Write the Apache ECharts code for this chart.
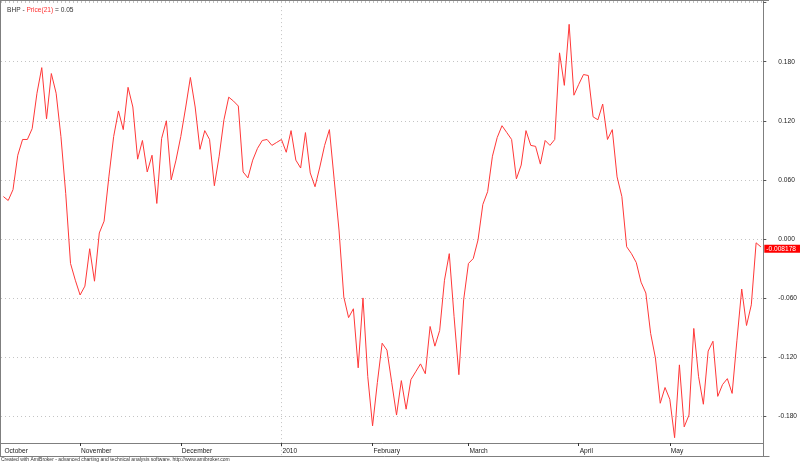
<!DOCTYPE html>
<html>
<head>
<meta charset="utf-8">
<script src="https://cdn.jsdelivr.net/npm/echarts@6/dist/echarts.min.js"></script>
<style>html,body{margin:0;padding:0;background:#fff;overflow:hidden;}#c{width:800px;height:480px;}</style>
</head>
<body>
<div id="c"></div>
<script>
const monthLabels = ['October','November','December','2010','February','March','April','May'];
const monthStartIdx = [0,16,37,58,77,97,120,139];
const yTicks = [-0.18,-0.12,-0.06,0,0.06,0.12,0.18];
const values = [
 0.043,0.039,0.050,0.085,0.101,0.101,0.112,0.148,0.174,0.122,
 0.168,0.148,0.104,0.046,-0.025,-0.042,-0.057,-0.048,-0.010,-0.043,
 0.006,0.018,0.063,0.104,0.130,0.111,0.154,0.134,0.081,0.100,
 0.068,0.085,0.036,0.102,0.120,0.060,0.080,0.104,0.133,0.164,
 0.134,0.091,0.110,0.101,0.054,0.084,0.121,0.144,0.140,0.135,
 0.068,0.062,0.080,0.092,0.100,0.101,0.095,0.098,0.101,0.088,
 0.110,0.080,0.072,0.108,0.067,0.053,0.073,0.095,0.111,0.060,
 0.009,-0.059,-0.080,-0.071,-0.131,-0.060,-0.140,-0.190,-0.146,-0.106,
 -0.113,-0.146,-0.179,-0.144,-0.173,-0.143,-0.135,-0.127,-0.137,-0.089,
 -0.109,-0.093,-0.042,-0.015,-0.079,-0.138,-0.062,-0.025,-0.020,-0.001,
 0.035,0.048,0.084,0.103,0.115,0.108,0.101,0.061,0.075,0.110,
 0.095,0.094,0.076,0.100,0.095,0.101,0.189,0.156,0.218,0.146,
 0.157,0.167,0.166,0.124,0.121,0.137,0.101,0.111,0.063,0.043,
 -0.008,-0.015,-0.024,-0.044,-0.055,-0.096,-0.121,-0.167,-0.151,-0.163,
 -0.202,-0.128,-0.191,-0.179,-0.091,-0.140,-0.168,-0.114,-0.104,-0.160,
 -0.148,-0.142,-0.157,-0.103,-0.051,-0.088,-0.067,-0.004,-0.008178
];
const lastValue = values[values.length - 1];
const categories = values.map((_, i) => String(i));

const FONT = 'Liberation Sans, Arial, sans-serif';
const chart = echarts.init(document.getElementById('c'), null, {renderer: 'canvas'});
const gridColor = '#c4c4c4';
const frameColor = '#7f7f7f';
chart.setOption({
  animation: false,
  backgroundColor: '#ffffff',
  title: {
    left: 2, top: 2,
    text: '{a|BHP - }{b|Price(21)}{a| = 0.05}',
    textStyle: {
      fontWeight: 'normal',
      rich: {
        a: {fontSize: 6.6, color: '#333333', fontFamily: FONT, fontWeight: 'normal'},
        b: {fontSize: 6.6, color: '#ff3030', fontFamily: FONT, fontWeight: 'normal'}
      }
    }
  },
  grid: {left: 1, right: 31, top: 1, height: 474.1, containLabel: false},
  xAxis: {
    type: 'category',
    data: categories,
    boundaryGap: true,
    offset: -32.1,
    axisLine: {show: true, onZero: false, lineStyle: {color: frameColor, width: 1}},
    axisTick: {
      show: true, alignWithLabel: true, length: 3,
      interval: (idx) => monthStartIdx.indexOf(idx) > 0,
      lineStyle: {color: '#333333'}
    },
    axisLabel: {
      interval: (idx) => monthStartIdx.indexOf(idx) >= 0,
      formatter: (val, idx) => {
        const k = monthStartIdx.indexOf(Number(val));
        return k >= 0 ? monthLabels[k] : '';
      },
      align: 'left',
      margin: 5,
      padding: [0, 0, 0, 1],
      fontSize: 6.6, color: '#222222', fontFamily: FONT
    },
    splitLine: {show: false}
  },
  yAxis: {
    type: 'value',
    position: 'right',
    min: -0.24,
    max: 0.2417,
    interval: 0.06,
    axisLine: {show: true, lineStyle: {color: frameColor, width: 1}},
    axisTick: {show: true, length: 3, lineStyle: {color: '#555555'}},
    axisLabel: {
      showMaxLabel: false,
      margin: 15,
      formatter: (v) => {
        const ok = yTicks.some(t => Math.abs(t - v) < 1e-9);
        return ok ? v.toFixed(3) : '';
      },
      fontSize: 6.6, color: '#222222', fontFamily: FONT
    },
    splitLine: {show: true, lineStyle: {color: gridColor, type: [1, 3], width: 1}}
  },
  series: [{
    type: 'line',
    data: values,
    showSymbol: false,
    symbol: 'none',
    lineStyle: {color: '#ff3838', width: 1},
    clip: true,
    markLine: {
      silent: true,
      symbol: ['none', 'none'],
      data: [
        {
          xAxis: String(monthStartIdx[3]),
          lineStyle: {color: gridColor, type: [1, 3], width: 1},
          label: {show: false}
        },
        {
          yAxis: lastValue,
          lineStyle: {color: 'rgba(0,0,0,0)', width: 0},
          label: {
            show: true, position: 'end', distance: 1,
            formatter: () => lastValue.toFixed(6),
            backgroundColor: '#ff0000', color: '#ffffff',
            padding: [1, 4, 0, 2],
            fontSize: 6.6, fontFamily: FONT, align: 'left'
          }
        }
      ]
    }
  }],
  graphic: [
    {type: 'line', shape: {x1: 0.5, y1: 0, x2: 0.5, y2: 457}, style: {stroke: frameColor, lineWidth: 1}, z: 100},
    {type: 'line', shape: {x1: 0, y1: 0.5, x2: 769, y2: 0.5}, style: {stroke: frameColor, lineWidth: 1}, z: 100},
    {type: 'rect', shape: {x: 0, y: 457, width: 800, height: 30}, style: {fill: '#ffffff'}, z: 100},
    {type: 'line', shape: {x1: 0, y1: 456.5, x2: 769.5, y2: 456.5}, style: {stroke: frameColor, lineWidth: 1}, z: 101},
    {type: 'text', left: 1, top: 457.5,
     style: {text: 'Created with AmiBroker - advanced charting and technical analysis software. http://www.amibroker.com',
             fontSize: 5, fill: '#333333', fontFamily: FONT}, z: 102}
  ]
});
</script>
</body>
</html>
